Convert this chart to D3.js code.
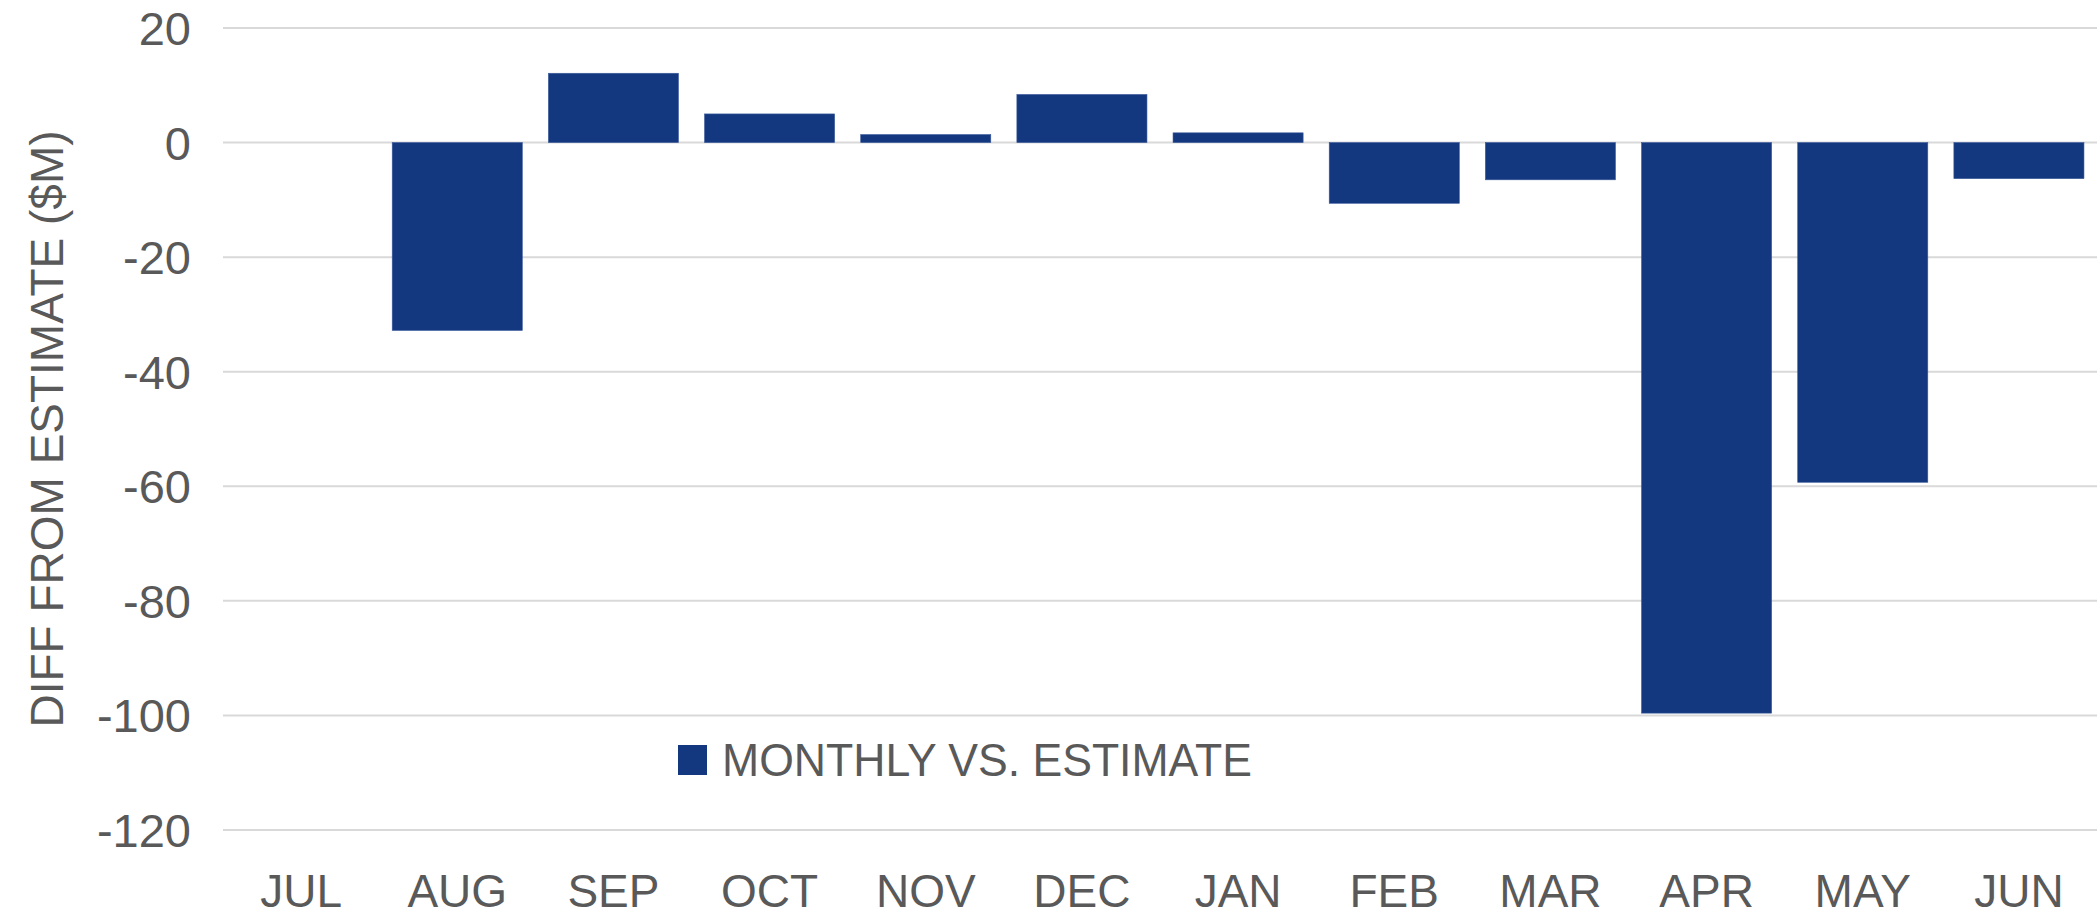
<!DOCTYPE html>
<html>
<head>
<meta charset="utf-8">
<script src="https://cdn.jsdelivr.net/npm/d3@7"></script>
<style>
  html, body { margin: 0; padding: 0; background: #fff; }
  svg { display: block; }
  text { font-family: "Liberation Sans Narrow", "Arial Narrow", "Liberation Sans", sans-serif; fill: #595959; }
</style>
</head>
<body>
<svg id="chart" width="2097" height="919"></svg>
<script>
const months = ["JUL","AUG","SEP","OCT","NOV","DEC","JAN","FEB","MAR","APR","MAY","JUN"];
const diffValues = [0, -32.8, 12.1, 5.0, 1.4, 8.4, 1.7, -10.6, -6.5, -99.6, -59.3, -6.3];
const yTicks = [20, 0, -20, -40, -60, -80, -100, -120];
const seriesName = "MONTHLY VS. ESTIMATE";
const yTitle = "DIFF FROM ESTIMATE ($M)";

const W = 2097, H = 919;
const margin = {left: 223, right: 0, top: 28, bottom: 89};
const svg = d3.select("#chart");

const x = d3.scaleBand().domain(months)
  .range([margin.left, W - margin.right])
  .paddingInner(0.167).paddingOuter(0.0835);
const y = d3.scaleLinear().domain([-120, 20]).range([H - margin.bottom, margin.top]);

const barColor = "#14387f";

// gridlines
svg.append("g").selectAll("line").data(yTicks).join("line")
  .attr("x1", margin.left).attr("x2", W - margin.right)
  .attr("y1", d => y(d)).attr("y2", d => y(d))
  .attr("stroke", "#d9d9d9").attr("stroke-width", 2);

// y axis labels
const yAxis = d3.axisLeft(y).tickValues(yTicks).tickSize(0).tickPadding(0)
  .tickFormat(d => String(d));
const gy = svg.append("g").attr("transform", `translate(191,0)`).call(yAxis);
gy.select(".domain").remove();
gy.selectAll("text").attr("font-size", 47).attr("fill", "#595959")
  .style("font-family", null).attr("dy", "0.35em");

// bars
svg.append("g").selectAll("rect").data(months).join("rect")
  .attr("x", d => x(d))
  .attr("width", x.bandwidth())
  .attr("y", (d, i) => y(Math.max(0, diffValues[i])))
  .attr("height", (d, i) => Math.abs(y(diffValues[i]) - y(0)))
  .attr("fill", barColor)
  .attr("stroke", "#3a5a9a").attr("stroke-width", 0.6);

// x axis labels
const xAxis = d3.axisBottom(x).tickSize(0).tickPadding(0);
const gx = svg.append("g").attr("transform", `translate(0,907)`).call(xAxis);
gx.select(".domain").remove();
gx.selectAll("text").attr("font-size", 46).attr("fill", "#595959")
  .style("font-family", null).attr("dy", "0");

// y title
svg.append("text")
  .attr("transform", `translate(47,${(y(20) + y(-120)) / 2}) rotate(-90)`)
  .attr("text-anchor", "middle").attr("dy", "0.35em")
  .attr("font-size", 46)
  .text(yTitle);

// legend
const lg = svg.append("g");
lg.append("rect").attr("x", 678).attr("y", 745).attr("width", 29).attr("height", 30).attr("fill", barColor);
lg.append("text").attr("x", 722).attr("y", 760).attr("dy", "0.35em")
  .attr("font-size", 46).attr("textLength", 530).attr("lengthAdjust", "spacingAndGlyphs")
  .text(seriesName);
</script>
</body>
</html>
